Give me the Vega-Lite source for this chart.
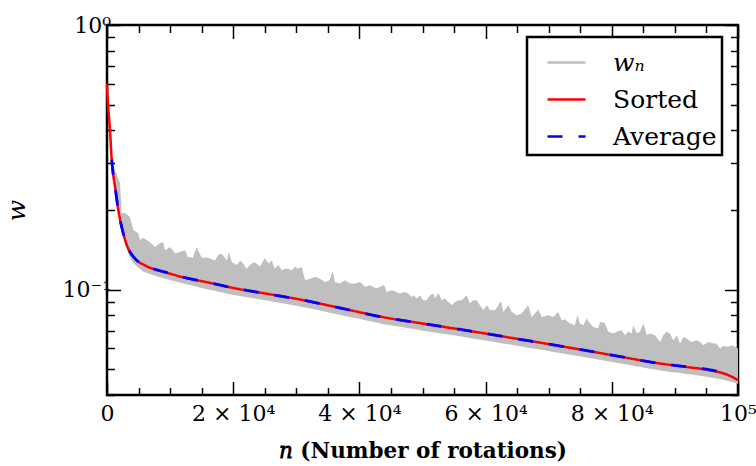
{
  "$schema": "https://vega.github.io/schema/vega-lite/v6.json",
  "width": 631,
  "height": 370,
  "autosize": {"type": "none"},
  "padding": {"left": 107, "top": 25, "right": 18, "bottom": 71},
  "datasets": {
    "band": [
      {"n":0,"hi":0.60,"lo":0.60},{"n":250,"hi":0.47,"lo":0.46},{"n":475,"hi":0.40,"lo":0.39},{"n":750,"hi":0.31,"lo":0.30},
      {"n":1270,"hi":0.283,"lo":0.236},{"n":2060,"hi":0.253,"lo":0.179},{"n":2330,"hi":0.195,"lo":0.167},{"n":2850,"hi":0.195,"lo":0.148},
      {"n":3650,"hi":0.188,"lo":0.132},{"n":4170,"hi":0.168,"lo":0.126},{"n":4960,"hi":0.1635,"lo":0.121},{"n":5230,"hi":0.154,"lo":0.120},
      {"n":5750,"hi":0.157,"lo":0.117},{"n":6800,"hi":0.151,"lo":0.1145},{"n":7600,"hi":0.145,"lo":0.113},{"n":8400,"hi":0.150,"lo":0.1115},
      {"n":8900,"hi":0.151,"lo":0.1105},{"n":9200,"hi":0.141,"lo":0.110},{"n":10000,"hi":0.145,"lo":0.1087},{"n":10800,"hi":0.137,"lo":0.1075},
      {"n":11600,"hi":0.139,"lo":0.1062},{"n":12400,"hi":0.141,"lo":0.105},{"n":12800,"hi":0.133,"lo":0.1045},{"n":13600,"hi":0.132,"lo":0.1035},
      {"n":14200,"hi":0.145,"lo":0.1025},{"n":15000,"hi":0.132,"lo":0.1015},{"n":16000,"hi":0.132,"lo":0.1002},{"n":17100,"hi":0.129,"lo":0.0990},
      {"n":17400,"hi":0.133,"lo":0.0985},{"n":17900,"hi":0.137,"lo":0.0979},{"n":18400,"hi":0.135,"lo":0.0973},{"n":19000,"hi":0.129,"lo":0.0967},
      {"n":19300,"hi":0.139,"lo":0.0963},{"n":19800,"hi":0.127,"lo":0.0957},{"n":20600,"hi":0.124,"lo":0.0950},{"n":21100,"hi":0.129,"lo":0.0946},
      {"n":21600,"hi":0.1256,"lo":0.0942},{"n":22100,"hi":0.120,"lo":0.0937},{"n":22700,"hi":0.124,"lo":0.0932},{"n":23200,"hi":0.127,"lo":0.0928},
      {"n":23700,"hi":0.1256,"lo":0.0924},{"n":24250,"hi":0.122,"lo":0.0919},{"n":25000,"hi":0.1316,"lo":0.0913},{"n":25600,"hi":0.1256,"lo":0.0908},
      {"n":26100,"hi":0.129,"lo":0.0903},{"n":26600,"hi":0.120,"lo":0.0899},{"n":27150,"hi":0.124,"lo":0.0894},{"n":27700,"hi":0.1185,"lo":0.0889},
      {"n":28200,"hi":0.120,"lo":0.0885},{"n":28700,"hi":0.120,"lo":0.0880},{"n":29300,"hi":0.1185,"lo":0.0875},{"n":29800,"hi":0.122,"lo":0.0871},
      {"n":30300,"hi":0.120,"lo":0.0867},{"n":30850,"hi":0.122,"lo":0.0861},{"n":31400,"hi":0.1086,"lo":0.0856},{"n":32200,"hi":0.110,"lo":0.0849},
      {"n":33000,"hi":0.112,"lo":0.0841},{"n":33750,"hi":0.110,"lo":0.0834},{"n":34550,"hi":0.107,"lo":0.0826},{"n":35300,"hi":0.1086,"lo":0.0819},
      {"n":35770,"hi":0.1178,"lo":0.0814},{"n":36100,"hi":0.107,"lo":0.0811},{"n":36900,"hi":0.1055,"lo":0.0804},{"n":37700,"hi":0.1086,"lo":0.0796},
      {"n":38500,"hi":0.1055,"lo":0.0789},{"n":39300,"hi":0.1055,"lo":0.0781},{"n":40100,"hi":0.107,"lo":0.0774},{"n":40900,"hi":0.1025,"lo":0.0767},
      {"n":41700,"hi":0.104,"lo":0.0760},{"n":42700,"hi":0.101,"lo":0.0751},{"n":43800,"hi":0.104,"lo":0.0741},{"n":44050,"hi":0.1025,"lo":0.0739},
      {"n":44300,"hi":0.0981,"lo":0.0737},{"n":45100,"hi":0.0996,"lo":0.0732},{"n":45900,"hi":0.0981,"lo":0.0727},{"n":46400,"hi":0.0967,"lo":0.0724},
      {"n":47200,"hi":0.0981,"lo":0.0719},{"n":47750,"hi":0.0967,"lo":0.0715},{"n":48300,"hi":0.0939,"lo":0.0712},{"n":48550,"hi":0.0953,"lo":0.0710},
      {"n":49100,"hi":0.0926,"lo":0.0707},{"n":49600,"hi":0.0953,"lo":0.0703},{"n":50100,"hi":0.0913,"lo":0.0700},{"n":50650,"hi":0.0913,"lo":0.0697},
      {"n":51200,"hi":0.0953,"lo":0.0694},{"n":51700,"hi":0.0967,"lo":0.0691},{"n":52000,"hi":0.0926,"lo":0.0689},{"n":52500,"hi":0.0972,"lo":0.0686},
      {"n":53050,"hi":0.0913,"lo":0.0683},{"n":53550,"hi":0.0926,"lo":0.0680},{"n":54100,"hi":0.0899,"lo":0.0677},{"n":54650,"hi":0.0874,"lo":0.0674},
      {"n":55150,"hi":0.0899,"lo":0.0671},{"n":55700,"hi":0.0913,"lo":0.0668},{"n":56200,"hi":0.0913,"lo":0.0665},{"n":57000,"hi":0.0953,"lo":0.0660},
      {"n":57500,"hi":0.0887,"lo":0.0657},{"n":58050,"hi":0.0913,"lo":0.0654},{"n":58600,"hi":0.0913,"lo":0.0650},{"n":59100,"hi":0.0874,"lo":0.0648},
      {"n":59650,"hi":0.0837,"lo":0.0644},{"n":60200,"hi":0.0874,"lo":0.0641},{"n":60700,"hi":0.0837,"lo":0.0638},{"n":61500,"hi":0.0837,"lo":0.0634},
      {"n":62450,"hi":0.0907,"lo":0.0628},{"n":62800,"hi":0.0824,"lo":0.0626},{"n":63600,"hi":0.0874,"lo":0.0622},{"n":64150,"hi":0.0824,"lo":0.0619},
      {"n":64950,"hi":0.0801,"lo":0.0614},{"n":65700,"hi":0.0813,"lo":0.0610},{"n":66750,"hi":0.0874,"lo":0.0604},{"n":67300,"hi":0.0789,"lo":0.0601},
      {"n":68350,"hi":0.0841,"lo":0.0596},{"n":68900,"hi":0.0789,"lo":0.0593},{"n":69950,"hi":0.0801,"lo":0.0587},{"n":70750,"hi":0.0789,"lo":0.0582},
      {"n":71500,"hi":0.0824,"lo":0.0578},{"n":72050,"hi":0.0767,"lo":0.0575},{"n":72600,"hi":0.0772,"lo":0.0572},{"n":73400,"hi":0.0745,"lo":0.0568},
      {"n":74150,"hi":0.0734,"lo":0.0564},{"n":74550,"hi":0.0801,"lo":0.0562},{"n":74950,"hi":0.0745,"lo":0.0560},{"n":75500,"hi":0.0734,"lo":0.0557},
      {"n":76000,"hi":0.0778,"lo":0.0554},{"n":76550,"hi":0.0745,"lo":0.0551},{"n":77050,"hi":0.0723,"lo":0.0549},{"n":77850,"hi":0.0713,"lo":0.0545},
      {"n":78150,"hi":0.0756,"lo":0.0543},{"n":78900,"hi":0.0749,"lo":0.0539},{"n":79450,"hi":0.0693,"lo":0.0536},{"n":80250,"hi":0.0683,"lo":0.0532},
      {"n":80800,"hi":0.0693,"lo":0.0529},{"n":81550,"hi":0.0703,"lo":0.0525},{"n":82100,"hi":0.0673,"lo":0.0523},{"n":82600,"hi":0.0693,"lo":0.0520},
      {"n":83150,"hi":0.0683,"lo":0.0517},{"n":83400,"hi":0.0734,"lo":0.0516},{"n":83950,"hi":0.0683,"lo":0.0513},{"n":84450,"hi":0.0693,"lo":0.0511},
      {"n":85000,"hi":0.0745,"lo":0.0508},{"n":85550,"hi":0.0673,"lo":0.0505},{"n":86050,"hi":0.0683,"lo":0.0503},{"n":86850,"hi":0.0673,"lo":0.0499},
      {"n":87650,"hi":0.0635,"lo":0.0495},{"n":88150,"hi":0.0673,"lo":0.0493},{"n":88700,"hi":0.0693,"lo":0.0491},{"n":89200,"hi":0.0683,"lo":0.0489},
      {"n":89750,"hi":0.0644,"lo":0.0488},{"n":90300,"hi":0.0673,"lo":0.0486},{"n":90800,"hi":0.0626,"lo":0.0484},{"n":91350,"hi":0.0663,"lo":0.0482},
      {"n":91850,"hi":0.0654,"lo":0.0480},{"n":92650,"hi":0.0635,"lo":0.0478},{"n":93450,"hi":0.0644,"lo":0.0475},{"n":94000,"hi":0.0635,"lo":0.0473},
      {"n":94500,"hi":0.0617,"lo":0.0471},{"n":95300,"hi":0.0635,"lo":0.0468},{"n":96100,"hi":0.0626,"lo":0.0464},{"n":96600,"hi":0.0626,"lo":0.0462},
      {"n":97150,"hi":0.0600,"lo":0.0459},{"n":97650,"hi":0.0612,"lo":0.0457},{"n":98450,"hi":0.0608,"lo":0.0452},{"n":99000,"hi":0.0617,"lo":0.0448},
      {"n":99550,"hi":0.0608,"lo":0.0444},{"n":100000,"hi":0.0600,"lo":0.0441}
    ],
    "sorted": [
      {"n":0,"w":0.60,"series":"Sorted"},{"n":100,"w":0.53,"series":"Sorted"},{"n":250,"w":0.47,"series":"Sorted"},{"n":475,"w":0.40,"series":"Sorted"},
      {"n":745,"w":0.31,"series":"Sorted"},{"n":1000,"w":0.27,"series":"Sorted"},{"n":1268,"w":0.245,"series":"Sorted"},{"n":1790,"w":0.200,"series":"Sorted"},
      {"n":2583,"w":0.163,"series":"Sorted"},{"n":3375,"w":0.143,"series":"Sorted"},{"n":4437,"w":0.131,"series":"Sorted"},{"n":6022,"w":0.1235,"series":"Sorted"},
      {"n":9190,"w":0.1165,"series":"Sorted"},{"n":12362,"w":0.111,"series":"Sorted"},{"n":16323,"w":0.1061,"series":"Sorted"},{"n":20000,"w":0.1015,"series":"Sorted"},
      {"n":25000,"w":0.0968,"series":"Sorted"},{"n":30587,"w":0.0918,"series":"Sorted"},{"n":38000,"w":0.0842,"series":"Sorted"},{"n":44057,"w":0.0785,"series":"Sorted"},
      {"n":50000,"w":0.0745,"series":"Sorted"},{"n":58320,"w":0.0693,"series":"Sorted"},{"n":65000,"w":0.0652,"series":"Sorted"},{"n":72590,"w":0.0608,"series":"Sorted"},
      {"n":80000,"w":0.0566,"series":"Sorted"},{"n":87640,"w":0.0526,"series":"Sorted"},{"n":92000,"w":0.0510,"series":"Sorted"},{"n":95570,"w":0.0496,"series":"Sorted"},
      {"n":98000,"w":0.0480,"series":"Sorted"},{"n":99527,"w":0.0462,"series":"Sorted"},{"n":100000,"w":0.0455,"series":"Sorted"}
    ],
    "average": [
      {"n":750,"w":0.31,"series":"Average"},{"n":1000,"w":0.27,"series":"Average"},{"n":1268,"w":0.245,"series":"Average"},{"n":1790,"w":0.200,"series":"Average"},
      {"n":2583,"w":0.163,"series":"Average"},{"n":3375,"w":0.143,"series":"Average"},{"n":4437,"w":0.131,"series":"Average"},{"n":6022,"w":0.1235,"series":"Average"},
      {"n":9190,"w":0.1165,"series":"Average"},{"n":12362,"w":0.111,"series":"Average"},{"n":16323,"w":0.1061,"series":"Average"},{"n":20000,"w":0.1015,"series":"Average"},
      {"n":25000,"w":0.0968,"series":"Average"},{"n":30587,"w":0.0918,"series":"Average"},{"n":38000,"w":0.0842,"series":"Average"},{"n":44057,"w":0.0785,"series":"Average"},
      {"n":50000,"w":0.0745,"series":"Average"},{"n":58320,"w":0.0693,"series":"Average"},{"n":65000,"w":0.0652,"series":"Average"},{"n":72590,"w":0.0608,"series":"Average"},
      {"n":80000,"w":0.0566,"series":"Average"},{"n":87640,"w":0.0526,"series":"Average"},{"n":92000,"w":0.0511,"series":"Average"},{"n":95570,"w":0.0498,"series":"Average"},
      {"n":97500,"w":0.0488,"series":"Average"},{"n":98700,"w":0.0482,"series":"Average"}
    ]
  },
  "layer": [
    {
      "data": {"name": "band"},
      "mark": {"type": "area", "color": "#bfbfbf", "opacity": 1},
      "encoding": {
        "x": {
          "field": "n", "type": "quantitative",
          "scale": {"domain": [0, 100000], "nice": false, "zero": false},
          "axis": {
            "orient": "bottom",
            "values": [0,5000,10000,15000,20000,25000,30000,35000,40000,45000,50000,55000,60000,65000,70000,75000,80000,85000,90000,95000,100000],
            "labelExpr": "datum.value === 0 ? '0' : datum.value === 100000 ? '10⁵' : datum.value % 20000 === 0 ? (datum.value / 10000) + ' × 10⁴' : ''",
            "tickSize": {"condition": {"test": "datum.value % 20000 === 0", "value": -13.5}, "value": -7.5},
            "labelPadding": 22,
            "labelFontSize": 22,
            "labelFlush": false,
            "labelOverlap": false,
            "labelBaseline": "top",
            "title": "𝑛 (Number of rotations)",
            "titleFontWeight": "bold",
            "titleFontSize": 21.5,
            "titleX": 315.5,
            "titleY": 62,
            "titleBaseline": "alphabetic",
            "titleAnchor": "middle"
          }
        },
        "y": {
          "field": "hi", "type": "quantitative",
          "scale": {"type": "log", "domain": [0.04, 1], "nice": false},
          "axis": {
            "orient": "left",
            "values": [0.04,0.05,0.06,0.07,0.08,0.09,0.1,0.2,0.3,0.4,0.5,0.6,0.7,0.8,0.9,1],
            "labelExpr": "datum.value === 1 ? '10⁰' : abs(datum.value - 0.1) < 1e-9 ? '10⁻¹' : ''",
            "tickSize": {"condition": {"test": "datum.value === 1 || abs(datum.value - 0.1) < 1e-9", "value": -13.5}, "value": -7.5},
            "labelPadding": 10,
            "labelFontSize": 22,
            "labelFlush": false,
            "labelOverlap": false,
            "labelBaseline": "middle",
            "title": "w",
            "titleFontStyle": "italic",
            "titleFontWeight": "normal",
            "titleFontSize": 25,
            "titleX": -91,
            "titleY": 185,
            "titleAngle": -90,
            "titleBaseline": "middle",
            "titleAlign": "center"
          }
        },
        "y2": {"field": "lo"}
      }
    },
    {
      "data": {"name": "sorted"},
      "mark": {"type": "line", "strokeWidth": 2.5, "interpolate": "monotone"},
      "encoding": {
        "x": {
          "field": "n", "type": "quantitative",
          "scale": {"domain": [0, 100000], "nice": false, "zero": false},
          "axis": {
            "orient": "top",
            "values": [0,5000,10000,15000,20000,25000,30000,35000,40000,45000,50000,55000,60000,65000,70000,75000,80000,85000,90000,95000,100000],
            "labels": false,
            "tickSize": {"condition": {"test": "datum.value % 20000 === 0", "value": -13.5}, "value": -7.5},
            "title": null
          }
        },
        "y": {
          "field": "w", "type": "quantitative",
          "scale": {"type": "log", "domain": [0.04, 1], "nice": false},
          "axis": {
            "orient": "right",
            "values": [0.04,0.05,0.06,0.07,0.08,0.09,0.1,0.2,0.3,0.4,0.5,0.6,0.7,0.8,0.9,1],
            "labels": false,
            "tickSize": {"condition": {"test": "datum.value === 1 || abs(datum.value - 0.1) < 1e-9", "value": -13.5}, "value": -7.5},
            "title": null
          }
        },
        "color": {
          "field": "series", "type": "nominal",
          "scale": {"domain": ["wₙ", "Sorted", "Average"], "range": ["#bfbfbf", "#ff0000", "#0000ff"]},
          "legend": {"title": null, "encode": {"labels": {"update": {"fontStyle": {"signal": "datum.label === 'wₙ' ? 'italic' : 'normal'"}}}}}
        },
        "strokeDash": {
          "field": "series", "type": "nominal",
          "scale": {"domain": ["wₙ", "Sorted", "Average"], "range": [[1, 0], [1, 0], [15, 16]]},
          "legend": {"title": null, "encode": {"labels": {"update": {"fontStyle": {"signal": "datum.label === 'wₙ' ? 'italic' : 'normal'"}}}}}
        }
      }
    },
    {
      "data": {"name": "average"},
      "mark": {"type": "line", "strokeWidth": 2.8, "interpolate": "monotone", "strokeCap": "butt"},
      "encoding": {
        "x": {"field": "n", "type": "quantitative", "scale": {"domain": [0, 100000], "nice": false, "zero": false}, "axis": null},
        "y": {"field": "w", "type": "quantitative", "scale": {"type": "log", "domain": [0.04, 1], "nice": false}, "axis": null},
        "color": {"field": "series", "type": "nominal", "legend": {"title": null}},
        "strokeDash": {"field": "series", "type": "nominal", "legend": {"title": null}}
      }
    }
  ],
  "resolve": {"axis": {"x": "independent", "y": "independent"}},
  "config": {
    "font": "DejaVu Serif",
    "view": {"stroke": "black", "strokeWidth": 2.5},
    "axis": {"domain": false, "grid": false, "tickColor": "black", "tickWidth": 1.5, "labelColor": "black", "titleColor": "black", "zindex": 1},
    "legend": {
      "orient": "none",
      "legendX": 420,
      "legendY": 12,
      "padding": 5,
      "symbolOffset": 14,
      "strokeColor": "black",
      "strokeWidth": 2.5,
      "fillColor": "white",
      "cornerRadius": 0,
      "symbolType": "stroke",
      "symbolSize": 1444,
      "symbolStrokeWidth": 2.5,
      "labelFontSize": 25,
      "labelColor": "black",
      "labelOffset": 26,
      "rowPadding": 3,
      "labelLimit": 300
    }
  }
}
